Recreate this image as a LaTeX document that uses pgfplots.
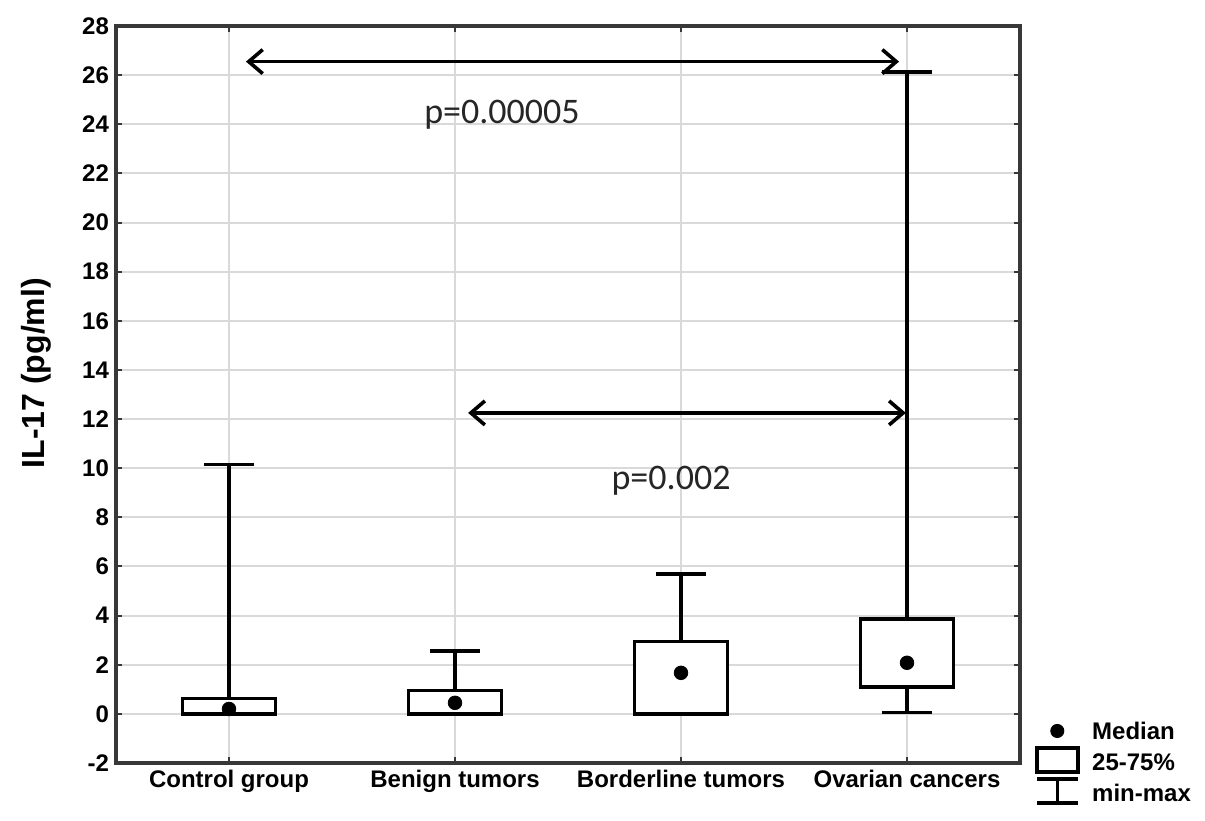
\documentclass[border=0pt]{standalone}
\usepackage{pgfplots}
\pgfplotsset{compat=1.18}
\usepgfplotslibrary{statistics}
\usetikzlibrary{arrows.meta}
\usepackage{fontspec}
\setmainfont{Liberation Sans}
\newfontfamily\carlito{Carlito}
\begin{document}
\begin{tikzpicture}
\useasboundingbox (-58pt,-28.5pt) rectangle (544.5pt,381.5pt);
\begin{axis}[
  at={(0,0)}, anchor=south west, scale only axis,
  width=452pt, height=368.5pt,
  xmin=-0.5, xmax=3.5, ymin=-2, ymax=28,
  ytick={-2,0,2,4,6,8,10,12,14,16,18,20,22,24,26,28},
  xtick={0,1,2,3},
  xticklabels={Control group, Benign tumors, Borderline tumors, Ovarian cancers},
  grid=major,
  major grid style={line width=1pt, color=black!15},
  axis line style={line width=1.8pt, color=black!78},
  tick style={line width=1pt, color=black!78},
  major tick length=3pt, tick align=inside,
  ticklabel style={font=\bfseries\fontsize{12}{14}\selectfont},
  /pgf/number format/assume math mode=true,
  ylabel={IL-17 (pg/ml)},
  ylabel style={font=\bfseries\fontsize{16}{18}\selectfont, at={(axis description cs:-0.0885,0.529)}, anchor=center},
  boxplot/draw direction=y,
  boxplot/draw/median/.code={},
  legend style={at={(axis description cs:1.0177,0.0014)}, anchor=west, draw=none, fill=none, inner sep=0pt,
    row sep=6.5pt, column sep=7pt,
    font=\bfseries\fontsize{12}{14}\selectfont,
    nodes={inner sep=0pt, text height=9pt, text depth=0pt}},
  legend cell align=left,
]
\addplot[forget plot, black, line width=1.8pt, fill=white, boxplot prepared={draw position=0, lower whisker=0, lower quartile=0, median=0.2, upper quartile=0.62, upper whisker=10.15, box extend=0.41, whisker extend=0.22}] coordinates {};
\addplot[forget plot, black, line width=1.8pt, fill=white, boxplot prepared={draw position=1, lower whisker=0, lower quartile=0, median=0.45, upper quartile=0.95, upper whisker=2.55, box extend=0.41, whisker extend=0.22}] coordinates {};
\addplot[forget plot, black, line width=1.8pt, fill=white, boxplot prepared={draw position=2, lower whisker=0, lower quartile=0, median=1.67, upper quartile=2.95, upper whisker=5.7, box extend=0.41, whisker extend=0.22}] coordinates {};
\addplot[forget plot, black, line width=1.8pt, fill=white, boxplot prepared={draw position=3, lower whisker=0.05, lower quartile=1.1, median=2.08, upper quartile=3.87, upper whisker=26.13, box extend=0.41, whisker extend=0.22}] coordinates {};
\addplot[forget plot, only marks, mark=*, mark size=3.4pt, black, mark options={fill=black, line width=0.4pt}] coordinates {(0,0.2) (1,0.45) (2,1.67) (3,2.08)};
\addplot[forget plot, black, line width=1.8pt, {Straight Barb[length=7pt,width=12pt]}-{Straight Barb[length=7pt,width=12pt]}] coordinates {(0.075,26.55) (2.965,26.55)};
\addplot[forget plot, black, line width=1.8pt, {Straight Barb[length=7pt,width=12pt]}-{Straight Barb[length=7pt,width=12pt]}] coordinates {(1.058,12.25) (2.995,12.25)};
\node[anchor=base, font=\carlito\fontsize{18}{20}\selectfont, text=black!85] at (axis cs:1.208,24.05) {p=0.00005};
\node[anchor=base, font=\carlito\fontsize{18}{20}\selectfont, text=black!85] at (axis cs:1.956,9.12) {p=0.002};
\addlegendimage{legend image code/.code={\path (0pt,0pt) (20.5pt,0pt); \fill[overlay, black] (10.25pt,0pt) circle (3.3pt);}}
\addlegendentry{Median}
\addlegendimage{legend image code/.code={\path (0pt,0pt) (20.5pt,0pt); \draw[overlay, black, line width=1.8pt] (0pt,-5pt) rectangle (20.5pt,7pt);}}
\addlegendentry{25-75\%}
\addlegendimage{legend image code/.code={\path (0pt,0pt) (20.5pt,0pt); \draw[overlay, black, line width=1.8pt] (0pt,7pt) -- (20.5pt,7pt) (10.25pt,7pt) -- (10.25pt,-5pt) (0pt,-5pt) -- (20.5pt,-5pt);}}
\addlegendentry{min-max}
\end{axis}
\end{tikzpicture}
\end{document}
